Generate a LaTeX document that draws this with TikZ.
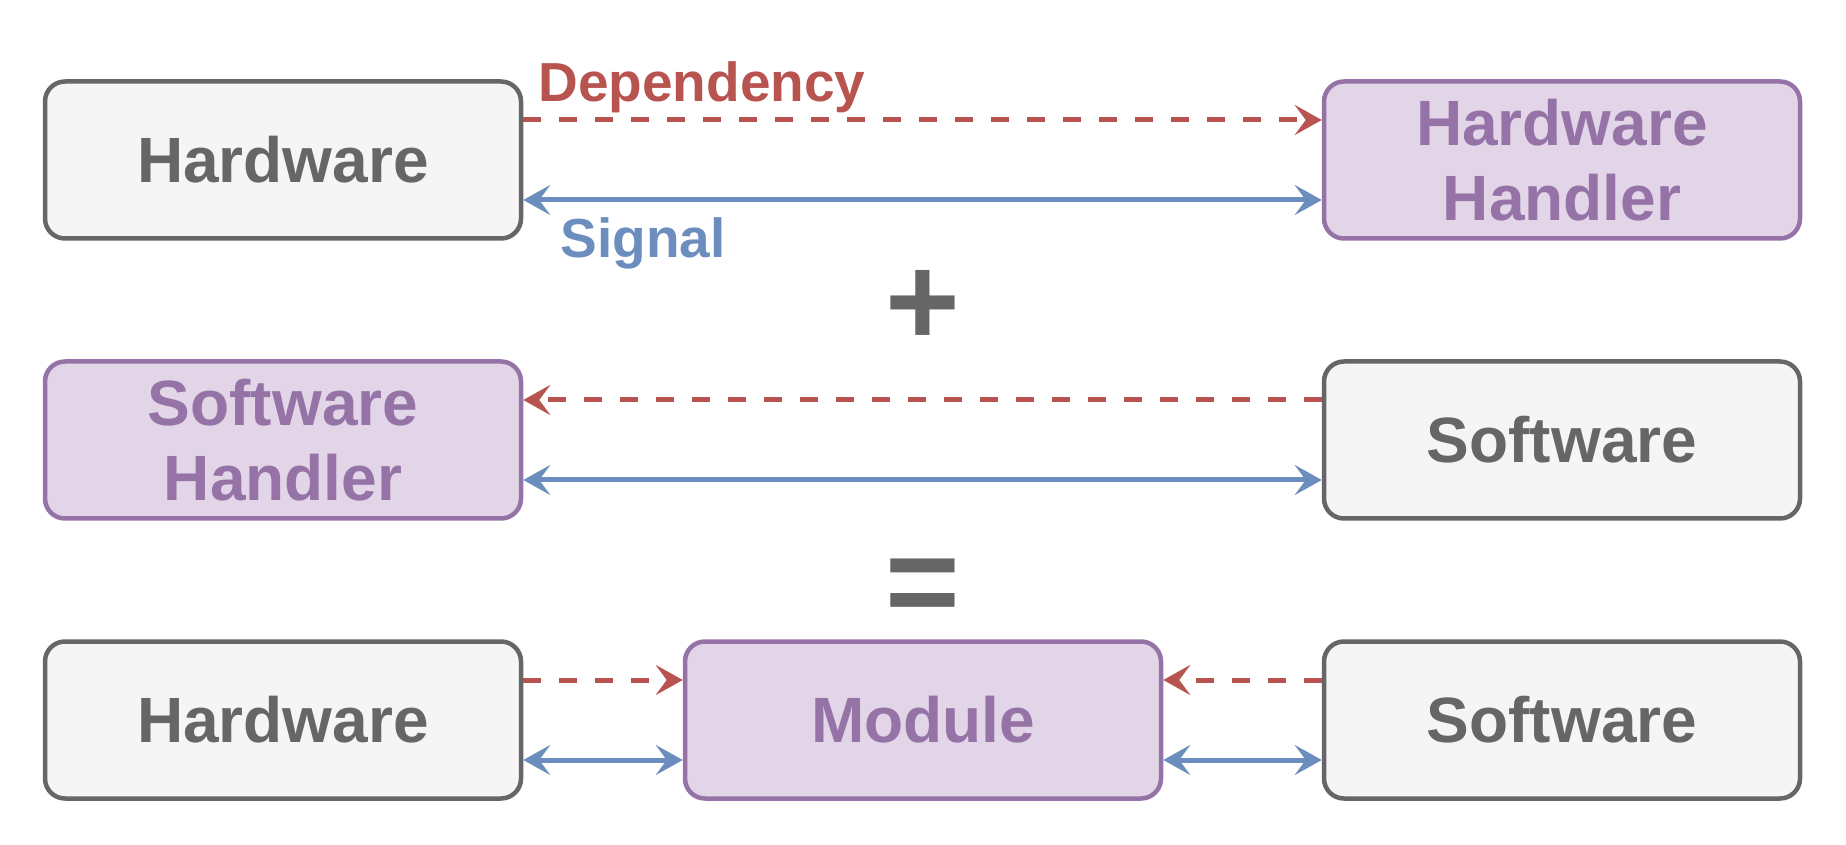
\documentclass[tikz,border=0pt]{standalone}
\usepackage{fontspec}
\setmainfont{Liberation Sans}
\usetikzlibrary{arrows.meta}
\definecolor{greyfill}{HTML}{F5F5F5}
\definecolor{greyline}{HTML}{666666}
\definecolor{purplefill}{HTML}{E1D5E7}
\definecolor{purpleline}{HTML}{9673A6}
\definecolor{depred}{HTML}{B85450}
\definecolor{sigblue}{HTML}{6C8EBF}
\begin{document}
\begin{tikzpicture}[x=1pt, y=1pt,
    plain/.style={rectangle, rounded corners=20pt, line width=4.5pt,
      minimum width=476pt, minimum height=157pt, align=center,
      font=\fontsize{64}{75}\selectfont\bfseries,
      draw=greyline, fill=greyfill, text=greyline},
    handler/.style={plain, draw=purpleline, fill=purplefill, text=purpleline},
    dep/.style={depred, line width=5pt, dash pattern=on 18pt off 18pt, -{Stealth[length=27pt, width=30pt, inset=11pt]}},
    sig/.style={sigblue, line width=5pt, {Stealth[length=27pt, width=30pt, inset=11pt]}-{Stealth[length=27pt, width=30pt, inset=11pt]}},
    lbl/.style={font=\fontsize{55}{66}\selectfont\bfseries, anchor=base west, inner sep=0pt},
    op/.style={font=\fontsize{128}{128}\selectfont\bfseries, text=greyline, inner sep=0pt}
    ]
    \useasboundingbox (0,0) rectangle (1846,844);
    \node[plain] (hw) at (283,684) {Hardware};
    \node[handler] (hwh) at (1562,684) {Hardware\\Handler};
    \node[op] (plus) at (923,536) {+};
    \node[handler] (swh) at (283,404) {Software\\Handler};
    \node[plain] (sw) at (1562,404) {Software};
    \node[op] (equals) at (923,252) {=};
    \node[plain] (hw2) at (283,124) {Hardware};
    \node[handler] (mod) at (923,124) {Module};
    \node[plain] (sw2) at (1562,124) {Software};

    \draw[dep] ([yshift=40pt]hw.east) -- ([yshift=40pt]hwh.west);
    \draw[sig] ([yshift=-40pt]hw.east) -- ([yshift=-40pt]hwh.west);
    \node[lbl, text=depred] (deplbl) at ([shift={(15,58)}]hw.east) {Dependency};
    \node[lbl, text=sigblue] (siglbl) at ([shift={(37,-98)}]hw.east) {Signal};

    \draw[dep] ([yshift=40pt]sw.west) -- ([yshift=40pt]swh.east);
    \draw[sig] ([yshift=-40pt]swh.east) -- ([yshift=-40pt]sw.west);

    \draw[dep] ([yshift=40pt]hw2.east) -- ([yshift=40pt]mod.west);
    \draw[dep] ([yshift=40pt]sw2.west) -- ([yshift=40pt]mod.east);
    \draw[sig] ([yshift=-40pt]hw2.east) -- ([yshift=-40pt]mod.west);
    \draw[sig] ([yshift=-40pt]mod.east) -- ([yshift=-40pt]sw2.west);
\end{tikzpicture}
\end{document}
